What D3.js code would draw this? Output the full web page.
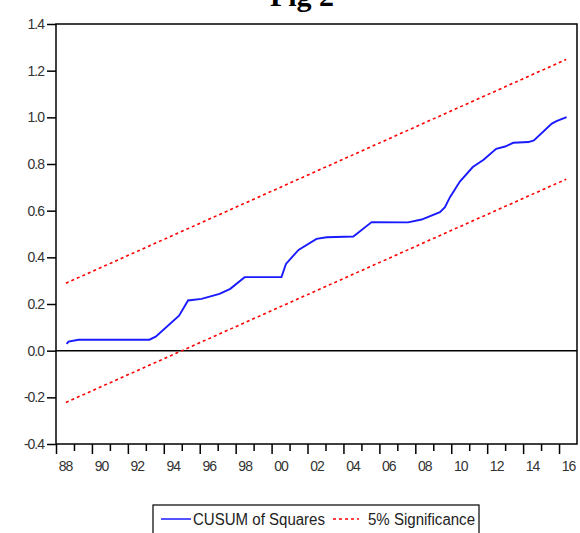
<!DOCTYPE html>
<html>
<head>
<meta charset="utf-8">
<script src="https://cdn.jsdelivr.net/npm/d3@7"></script>
<style>
  body { margin: 0; background: #fff; }
  svg { display: block; }
  .tick text { font-family: Arial, "Liberation Sans", sans-serif; font-size: 14px; fill: #333; letter-spacing: -1px; }
  .tick line { stroke: #000; stroke-width: 1.5; }
</style>
</head>
<body>
<div id="chart"></div>
<script>
// CUSUM of squares (vertices)
const cusumYears  = [1988.59, 1988.7, 1989.25, 1993.2, 1993.55, 1994.85, 1995.35, 1996.1, 1997.1, 1997.7,
                     1998.5, 2000.55, 2000.8, 2001.5, 2002.5, 2003.06, 2004.55, 2005.57, 2007.6, 2008.35,
                     2009.37, 2009.65, 2009.93, 2010.48, 2011.2, 2011.8, 2012.5, 2013.0, 2013.45, 2014.3,
                     2014.6, 2015.6, 2015.86, 2016.42]
const cusumValues = [0.029, 0.039, 0.047, 0.047, 0.06, 0.15, 0.215, 0.222, 0.243, 0.265,
                     0.315, 0.315, 0.372, 0.432, 0.479, 0.486, 0.489, 0.551, 0.55, 0.562,
                     0.594, 0.615, 0.658, 0.725, 0.787, 0.818, 0.865, 0.875, 0.891, 0.894,
                     0.901, 0.973, 0.984, 1.001]

// 5% significance bounds
const sigYears   = [1988.55, 2016.4]
const upperBound = [0.289, 1.248]
const lowerBound = [-0.222, 0.735]

const yTicks = [-0.4, -0.2, 0.0, 0.2, 0.4, 0.6, 0.8, 1.0, 1.2, 1.4]
const xLabelYears = d3.range(1988, 2017, 2)

const width = 580, height = 533
const margin = { left: 56, right: 577, top: 24, bottom: 444 }

const xScale = d3.scaleLinear().domain([1988, 2017]).range([margin.left, margin.right])
const yScale = d3.scaleLinear().domain([-0.4, 1.4]).range([margin.bottom, margin.top])

const svg = d3.select('#chart').append('svg')
  .attr('width', width)
  .attr('height', height)

// title, mostly cut off at the top (as in the source image)
svg.append('text')
  .attr('x', 302).attr('y', 6)
  .attr('text-anchor', 'middle')
  .style('font-family', '"Liberation Serif", "Times New Roman", serif')
  .style('font-weight', 'bold')
  .style('font-size', '30px')
  .text('Fig 2')

// y axis
const yAxis = d3.axisLeft(yScale)
  .tickValues(yTicks)
  .tickSize(9)
  .tickPadding(3)
  .tickFormat(d => d.toFixed(1))
svg.append('g')
  .attr('transform', 'translate(' + margin.left + ', 0)')
  .call(yAxis)
  .call(g => g.select('.domain').remove())

// x axis: minor ticks every year, major every two
const xMinor = d3.axisBottom(xScale)
  .tickValues(d3.range(1989, 2017, 2))
  .tickSize(7)
  .tickFormat('')
svg.append('g')
  .attr('transform', 'translate(0, ' + margin.bottom + ')')
  .call(xMinor)
  .call(g => g.select('.domain').remove())

const xMajor = d3.axisBottom(xScale)
  .tickValues(d3.range(1988, 2018, 2))
  .tickSize(10)
  .tickFormat('')
svg.append('g')
  .attr('transform', 'translate(0, ' + margin.bottom + ')')
  .call(xMajor)
  .call(g => g.select('.domain').remove())

const xLabels = d3.axisBottom(xScale)
  .tickValues(xLabelYears.map(d => d + 0.5))
  .tickSize(0)
  .tickPadding(17)
  .tickFormat(d => String(Math.floor(d) % 100).padStart(2, '0'))
svg.append('g')
  .attr('transform', 'translate(0, ' + margin.bottom + ')')
  .call(xLabels)
  .call(g => g.select('.domain').remove())

// zero line
svg.append('line')
  .attr('x1', margin.left).attr('x2', margin.right)
  .attr('y1', yScale(0)).attr('y2', yScale(0))
  .style('stroke', '#000')
  .style('stroke-width', 1.5)

const line = d3.line()
  .x(d => xScale(d[0]))
  .y(d => yScale(d[1]))

svg.append('path')
  .datum(d3.zip(sigYears, upperBound))
  .attr('d', line)
  .style('fill', 'none')
  .style('stroke', '#ff0000')
  .style('stroke-width', 1.6)
  .style('stroke-dasharray', '3,3')

svg.append('path')
  .datum(d3.zip(sigYears, lowerBound))
  .attr('d', line)
  .style('fill', 'none')
  .style('stroke', '#ff0000')
  .style('stroke-width', 1.6)
  .style('stroke-dasharray', '3,3')

svg.append('path')
  .datum(d3.zip(cusumYears, cusumValues))
  .attr('d', line)
  .style('fill', 'none')
  .style('stroke', '#1a1aff')
  .style('stroke-width', 1.9)

// frame
svg.append('rect')
  .attr('x', margin.left).attr('y', margin.top)
  .attr('width', margin.right - margin.left).attr('height', margin.bottom - margin.top)
  .style('fill', 'none')
  .style('stroke', '#000')
  .style('stroke-width', 1.5)

// legend
const legend = svg.append('g').attr('transform', 'translate(153, 505)')
legend.append('rect')
  .attr('width', 326).attr('height', 40)
  .style('fill', '#fff')
  .style('stroke', '#000')
  .style('stroke-width', 1.2)
legend.append('line')
  .attr('x1', 8).attr('x2', 38).attr('y1', 14).attr('y2', 14)
  .style('stroke', '#1a1aff').style('stroke-width', 1.5)
legend.append('text')
  .attr('x', 40).attr('y', 20)
  .attr('textLength', 132).attr('lengthAdjust', 'spacingAndGlyphs')
  .style('font-family', 'Arial, "Liberation Sans", sans-serif')
  .style('font-size', '16px').style('fill', '#222')
  .text('CUSUM of Squares')
legend.append('line')
  .attr('x1', 180).attr('x2', 206).attr('y1', 14).attr('y2', 14)
  .style('stroke', '#ff0000').style('stroke-width', 1.5)
  .style('stroke-dasharray', '3,3')
legend.append('text')
  .attr('x', 215).attr('y', 20)
  .attr('textLength', 107).attr('lengthAdjust', 'spacingAndGlyphs')
  .style('font-family', 'Arial, "Liberation Sans", sans-serif')
  .style('font-size', '16px').style('fill', '#222')
  .text('5% Significance')
</script>
</body>
</html>
